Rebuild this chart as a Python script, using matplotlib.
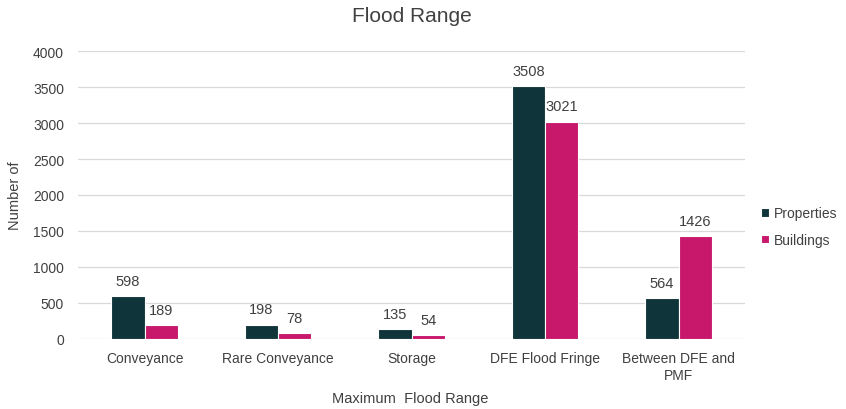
import matplotlib.pyplot as plt
import numpy as np

plt.rcParams['font.family'] = ['Liberation Sans', 'DejaVu Sans']

# flood zone counts
categories = ["Conveyance", "Rare Conveyance", "Storage", "DFE Flood Fringe", "Between DFE and\nPMF"]
properties = [598, 198, 135, 3508, 564]
buildings = [189, 78, 54, 3021, 1426]
yticks = [0, 500, 1000, 1500, 2000, 2500, 3000, 3500, 4000]

c_prop = "#0f353a"
c_bldg = "#c8186c"
txt = "#404040"

fig = plt.figure(figsize=(8.46, 4.10), dpi=100)
ax = fig.add_axes([0.092, 0.171, 0.789, 0.702])

x = np.arange(len(categories))
w = 0.25
b1 = ax.bar(x - w / 2, properties, w, color=c_prop, edgecolor="white", linewidth=0.8, label="Properties", zorder=3)
b2 = ax.bar(x + w / 2, buildings, w, color=c_bldg, edgecolor="white", linewidth=0.8, label="Buildings", zorder=3)
ax.bar_label(b1, padding=6, fontsize=10.5, color=txt)
ax.bar_label(b2, padding=6, fontsize=10.5, color=txt)

ax.set_xlim(-0.5, len(categories) - 0.5)
ax.set_ylim(0, 4000)
ax.set_yticks(yticks)
ax.set_xticks(x)
ax.set_xticklabels(categories)
ax.tick_params(axis="both", length=0, labelsize=10, colors=txt)
ax.tick_params(axis="x", pad=9)
ax.tick_params(axis="y", pad=10)
ax.grid(axis="y", color="#d9d9d9", linewidth=0.9, zorder=0)
for s in ax.spines.values():
    s.set_visible(False)

ax.set_title("Flood Range", fontsize=15, color=txt, pad=22)
ax.set_ylabel("Number of", fontsize=10.5, color=txt, labelpad=8)
# axis title sits below the wrapped tick label, so place it on the figure
fig.text(0.485, 0.028, "Maximum  Flood Range", fontsize=10.5, color=txt, ha="center", va="center")

ax.legend(loc="center left", bbox_to_anchor=(1.005, 0.39), frameon=False,
          fontsize=10, labelcolor=txt, handlelength=0.6, handleheight=0.6,
          handletextpad=0.3, labelspacing=0.9)

fig.savefig("out.png", dpi=100)
